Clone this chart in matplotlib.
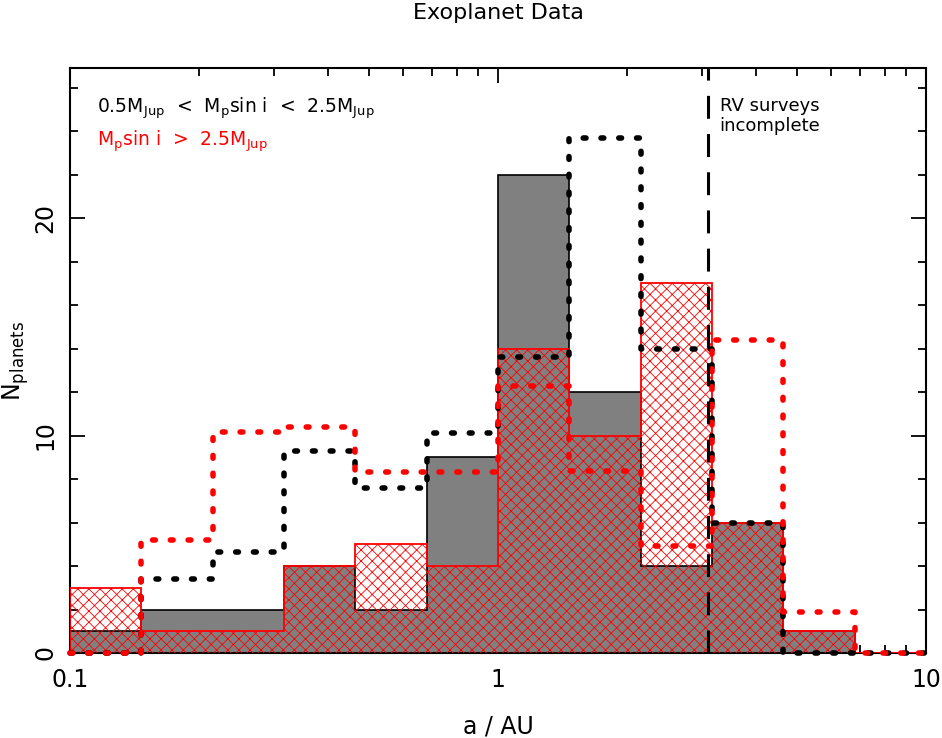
import numpy as np
import matplotlib
matplotlib.use("Agg")
import matplotlib.pyplot as plt
from matplotlib.ticker import LogLocator, FixedLocator, FixedFormatter, MultipleLocator, NullFormatter

# ---- data ----
bin_edges = np.logspace(-1, 1, 13)  # 12 bins, 1/6 dex each, 0.1 .. 10
grey_counts = [1, 2, 2, 4, 2, 9, 22, 12, 4, 6, 1, 0]          # 0.5 MJup < Mp sin i < 2.5 MJup
red_counts = [3, 1, 1, 4, 5, 4, 14, 10, 17, 6, 1, 0]          # Mp sin i > 2.5 MJup
black_dotted = [0, 3.4, 4.65, 9.3, 7.6, 10.1, 13.6, 23.7, 14.0, 6.0, 0, 0]
red_dotted = [0, 5.2, 10.15, 10.4, 8.3, 8.3, 12.3, 8.35, 4.9, 14.4, 1.9, 0]
rv_limit = 3.1
xticks = [0.1, 1, 10]
xtick_labels = ["0.1", "1", "10"]
yticks = [0, 10, 20]
ytick_labels = ["0", "10", "20"]

plt.rcParams['font.family'] = ['DejaVu Sans']
plt.rcParams['mathtext.fontset'] = 'dejavusans'
plt.rcParams['hatch.linewidth'] = 0.6

fig = plt.figure(figsize=(9.42, 7.38), dpi=100)
ax = fig.add_axes([70/942, 1-653/738, 856/942, 585/738])

ax.stairs(grey_counts, bin_edges, fill=True, facecolor='#808080',
          edgecolor='black', linewidth=1.2, zorder=2)
ax.stairs(red_counts, bin_edges, fill=True, facecolor='none',
          edgecolor='red', hatch='xxx', linewidth=0, zorder=3)
ax.stairs(red_counts, bin_edges, fill=False, edgecolor='red', linewidth=1.3, zorder=3)

def dotted(vals, color):
    ax.plot(bin_edges, list(vals) + [vals[-1]], drawstyle='steps-post',
            color=color, linewidth=4.0, dashes=(0.5, 2.7),
            dash_capstyle='round', solid_capstyle='round', zorder=4, clip_on=False)

dotted(black_dotted, 'black')
dotted(red_dotted, 'red')

ax.axvline(rv_limit, color='black', linewidth=2.2, dashes=(7.5, 5.0), zorder=5)

ax.set_xscale('log')
ax.set_xlim(0.1, 10)
ax.set_ylim(0, 26.9)

ax.xaxis.set_major_locator(FixedLocator(xticks))
ax.xaxis.set_major_formatter(FixedFormatter(xtick_labels))
ax.xaxis.set_minor_locator(LogLocator(base=10, subs=np.arange(2, 10)))
ax.xaxis.set_minor_formatter(NullFormatter())
ax.yaxis.set_major_locator(FixedLocator(yticks))
ax.yaxis.set_major_formatter(FixedFormatter(ytick_labels))
ax.yaxis.set_minor_locator(MultipleLocator(2))

ax.tick_params(which='both', direction='in', top=True, right=True, width=1.3, colors='black')
ax.tick_params(which='major', length=11, labelsize=17)
ax.tick_params(axis='x', which='major', pad=11)
ax.tick_params(axis='y', which='major', pad=9)
ax.tick_params(which='minor', length=6)
for lab in ax.get_yticklabels():
    lab.set_rotation(90)
    lab.set_va('center')
for sp in ax.spines.values():
    sp.set_linewidth(1.5)

ax.set_xlabel('a / AU', fontsize=17, labelpad=16)
ax.set_ylabel(r'N$_{\rm planets}$', fontsize=17)
ax.yaxis.set_label_coords(-0.045, 0.5)
fig.text(498/942, 1-3/738, 'Exoplanet Data', ha='center', va='top', fontsize=16)

ax.text(0.0315, 0.923, r'0.5M$_{\rm Jup}$  <  M$_{\rm p}$sin i  <  2.5M$_{\rm Jup}$',
        transform=ax.transAxes, fontsize=13.5, color='black', va='baseline', ha='left')
ax.text(0.0315, 0.868, r'M$_{\rm p}$sin i  >  2.5M$_{\rm Jup}$',
        transform=ax.transAxes, fontsize=13.5, color='red', va='baseline', ha='left')
ax.text(0.759, 0.950, 'RV surveys\nincomplete', transform=ax.transAxes,
        fontsize=13, va='top', ha='left', linespacing=1.15)

fig.savefig('out.png', dpi=100)
